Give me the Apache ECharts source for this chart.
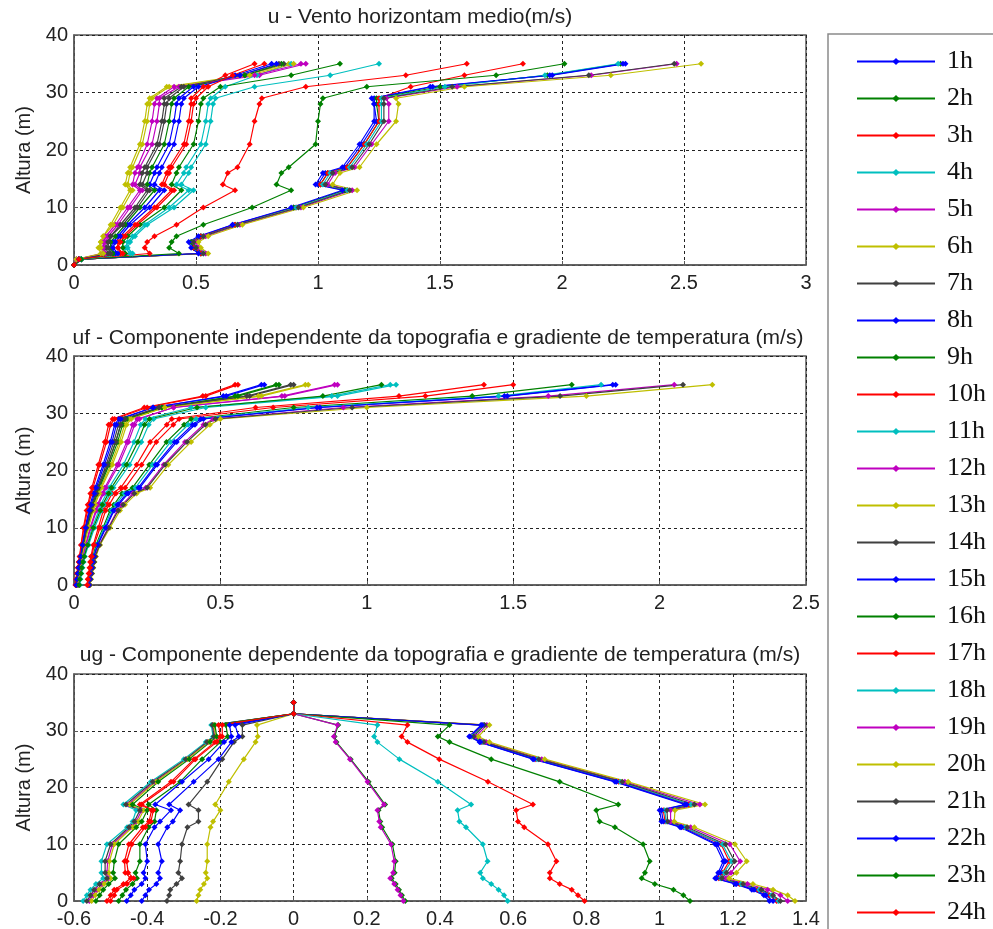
<!DOCTYPE html>
<html>
<head>
<meta charset="utf-8">
<script src="https://cdn.jsdelivr.net/npm/echarts/dist/echarts.min.js"></script>
<style>
  html, body { margin: 0; padding: 0; background: #ffffff; }
  #chart { width: 993px; height: 929px; }
</style>
</head>
<body>
<div id="chart"></div>
<script>
// Measurement heights (m) shared by every profile
const heights = [0, 1, 2, 3, 4, 5, 7, 10, 13, 14, 16, 17, 21, 25, 28, 29, 31, 33, 35];

const hourLabels = ['1h','2h','3h','4h','5h','6h','7h','8h','9h','10h','11h','12h',
                    '13h','14h','15h','16h','17h','18h','19h','20h','21h','22h','23h','24h'];

const panelTitles = [
  'u - Vento horizontam medio(m/s)',
  'uf - Componente independente da topografia e gradiente de temperatura (m/s)',
  'ug - Componente dependente da topografia e gradiente de temperatura (m/s)'
];

const xTicks = [
  { min: 0, max: 3, step: 0.5 },
  { min: 0, max: 2.5, step: 0.5 },
  { min: -0.6, max: 1.4, step: 0.2 }
];

const yTicks = { min: 0, max: 40, step: 10 };

// u: mean horizontal wind, one row per hour (values at each height)
const uProfiles = [
  [0, 0.03, 0.52, 0.49, 0.48, 0.52, 0.65, 0.90, 1.11, 1.00, 1.03, 1.11, 1.18, 1.24, 1.23, 1.23, 1.47, 1.96, 2.26],
  [0, 0.03, 0.52, 0.49, 0.48, 0.52, 0.66, 0.90, 1.11, 1.01, 1.04, 1.12, 1.19, 1.25, 1.24, 1.24, 1.50, 1.94, 2.24],
  [0, 0.03, 0.52, 0.49, 0.49, 0.52, 0.66, 0.91, 1.12, 1.01, 1.04, 1.12, 1.19, 1.25, 1.25, 1.25, 1.38, 1.60, 1.84],
  [0, 0.03, 0.53, 0.50, 0.49, 0.53, 0.67, 0.91, 1.12, 1.02, 1.05, 1.13, 1.20, 1.26, 1.26, 1.26, 1.52, 1.93, 2.23],
  [0, 0.03, 0.54, 0.51, 0.50, 0.54, 0.68, 0.93, 1.14, 1.04, 1.07, 1.15, 1.22, 1.29, 1.29, 1.28, 1.57, 2.12, 2.47],
  [0, 0.03, 0.55, 0.52, 0.51, 0.55, 0.69, 0.94, 1.16, 1.06, 1.09, 1.17, 1.24, 1.32, 1.33, 1.32, 1.60, 2.20, 2.57],
  [0, 0.03, 0.53, 0.50, 0.49, 0.53, 0.67, 0.92, 1.13, 1.03, 1.06, 1.14, 1.21, 1.27, 1.27, 1.27, 1.55, 2.11, 2.46],
  [0, 0.03, 0.51, 0.48, 0.47, 0.51, 0.65, 0.89, 1.10, 0.99, 1.02, 1.10, 1.17, 1.23, 1.23, 1.22, 1.46, 1.95, 2.25],
  [0, 0.03, 0.43, 0.39, 0.40, 0.42, 0.53, 0.73, 0.89, 0.83, 0.85, 0.88, 0.99, 1.00, 1.01, 1.02, 1.20, 1.73, 2.01],
  [0, 0.02, 0.31, 0.29, 0.30, 0.33, 0.42, 0.53, 0.66, 0.61, 0.63, 0.67, 0.72, 0.74, 0.76, 0.77, 0.95, 1.36, 1.61],
  [0, 0.03, 0.24, 0.22, 0.23, 0.25, 0.30, 0.41, 0.49, 0.44, 0.47, 0.48, 0.54, 0.56, 0.57, 0.58, 0.74, 1.05, 1.25],
  [0, 0.01, 0.13, 0.12, 0.13, 0.14, 0.18, 0.23, 0.28, 0.25, 0.27, 0.27, 0.32, 0.34, 0.35, 0.35, 0.43, 0.76, 0.95],
  [0, 0.01, 0.11, 0.10, 0.11, 0.12, 0.15, 0.19, 0.23, 0.21, 0.22, 0.23, 0.27, 0.29, 0.30, 0.31, 0.38, 0.70, 0.88],
  [0, 0.02, 0.14, 0.13, 0.14, 0.15, 0.19, 0.25, 0.30, 0.27, 0.28, 0.29, 0.34, 0.36, 0.37, 0.37, 0.44, 0.70, 0.86],
  [0, 0.02, 0.17, 0.15, 0.16, 0.18, 0.22, 0.29, 0.35, 0.31, 0.33, 0.34, 0.39, 0.41, 0.42, 0.43, 0.49, 0.66, 0.81],
  [0, 0.02, 0.16, 0.15, 0.15, 0.17, 0.21, 0.27, 0.33, 0.30, 0.31, 0.32, 0.37, 0.39, 0.40, 0.41, 0.47, 0.70, 0.85],
  [0, 0.02, 0.19, 0.18, 0.18, 0.20, 0.25, 0.33, 0.40, 0.36, 0.38, 0.39, 0.45, 0.47, 0.48, 0.48, 0.53, 0.62, 0.74],
  [0, 0.03, 0.23, 0.21, 0.22, 0.24, 0.29, 0.39, 0.47, 0.42, 0.45, 0.46, 0.52, 0.54, 0.55, 0.56, 0.62, 0.75, 0.89],
  [0, 0.01, 0.12, 0.12, 0.12, 0.13, 0.17, 0.22, 0.27, 0.24, 0.25, 0.26, 0.30, 0.32, 0.33, 0.34, 0.41, 0.74, 0.93],
  [0, 0.01, 0.12, 0.11, 0.11, 0.12, 0.16, 0.20, 0.24, 0.22, 0.23, 0.24, 0.28, 0.30, 0.31, 0.32, 0.39, 0.72, 0.90],
  [0, 0.02, 0.15, 0.14, 0.14, 0.15, 0.20, 0.26, 0.31, 0.28, 0.30, 0.30, 0.35, 0.37, 0.38, 0.39, 0.45, 0.68, 0.84],
  [0, 0.02, 0.18, 0.16, 0.17, 0.19, 0.23, 0.31, 0.37, 0.33, 0.35, 0.36, 0.41, 0.43, 0.44, 0.45, 0.51, 0.68, 0.83],
  [0, 0.03, 0.21, 0.20, 0.20, 0.22, 0.27, 0.37, 0.44, 0.40, 0.42, 0.43, 0.49, 0.51, 0.52, 0.53, 0.60, 0.89, 1.09],
  [0, 0.02, 0.20, 0.18, 0.19, 0.21, 0.26, 0.34, 0.41, 0.37, 0.39, 0.40, 0.46, 0.48, 0.49, 0.50, 0.55, 0.65, 0.78]
];

// uf: component independent of topography and temperature gradient
const ufProfiles = [
  [0.052, 0.054, 0.058, 0.061, 0.065, 0.069, 0.081, 0.109, 0.137, 0.152, 0.185, 0.225, 0.284, 0.351, 0.413, 0.442, 0.84, 1.48, 1.85],
  [0.049, 0.051, 0.055, 0.058, 0.061, 0.065, 0.075, 0.099, 0.123, 0.136, 0.164, 0.200, 0.257, 0.316, 0.376, 0.400, 0.75, 1.36, 1.70],
  [0.045, 0.047, 0.050, 0.053, 0.055, 0.058, 0.066, 0.083, 0.100, 0.110, 0.130, 0.160, 0.214, 0.260, 0.317, 0.334, 0.62, 1.11, 1.40],
  [0.050, 0.053, 0.056, 0.060, 0.063, 0.067, 0.078, 0.103, 0.128, 0.142, 0.172, 0.210, 0.268, 0.330, 0.390, 0.417, 0.80, 1.45, 1.80],
  [0.054, 0.056, 0.060, 0.064, 0.068, 0.072, 0.086, 0.117, 0.148, 0.164, 0.201, 0.245, 0.306, 0.379, 0.442, 0.475, 0.92, 1.62, 2.05],
  [0.055, 0.058, 0.062, 0.066, 0.070, 0.075, 0.089, 0.123, 0.157, 0.174, 0.214, 0.260, 0.322, 0.400, 0.464, 0.500, 1.00, 1.75, 2.18],
  [0.054, 0.057, 0.061, 0.065, 0.069, 0.073, 0.087, 0.119, 0.151, 0.168, 0.206, 0.250, 0.311, 0.386, 0.449, 0.483, 0.95, 1.66, 2.08],
  [0.051, 0.054, 0.057, 0.061, 0.064, 0.068, 0.080, 0.107, 0.134, 0.148, 0.180, 0.220, 0.279, 0.344, 0.405, 0.433, 0.83, 1.47, 1.84],
  [0.010, 0.012, 0.015, 0.018, 0.021, 0.025, 0.032, 0.044, 0.058, 0.064, 0.076, 0.084, 0.116, 0.142, 0.160, 0.175, 0.30, 0.56, 0.70],
  [0.005, 0.007, 0.010, 0.013, 0.016, 0.019, 0.024, 0.032, 0.043, 0.047, 0.056, 0.061, 0.083, 0.105, 0.118, 0.132, 0.24, 0.44, 0.55],
  [0.020, 0.022, 0.025, 0.029, 0.033, 0.037, 0.050, 0.070, 0.095, 0.102, 0.125, 0.135, 0.190, 0.230, 0.255, 0.272, 0.45, 0.90, 1.10],
  [0.014, 0.016, 0.019, 0.023, 0.026, 0.030, 0.040, 0.055, 0.074, 0.080, 0.097, 0.105, 0.147, 0.180, 0.200, 0.216, 0.34, 0.72, 0.90],
  [0.011, 0.013, 0.016, 0.019, 0.023, 0.026, 0.034, 0.047, 0.064, 0.069, 0.084, 0.091, 0.126, 0.155, 0.173, 0.188, 0.31, 0.64, 0.80],
  [0.009, 0.011, 0.014, 0.017, 0.020, 0.024, 0.030, 0.041, 0.056, 0.061, 0.073, 0.080, 0.110, 0.136, 0.152, 0.167, 0.29, 0.60, 0.75],
  [0.007, 0.009, 0.012, 0.015, 0.019, 0.022, 0.028, 0.038, 0.051, 0.055, 0.066, 0.072, 0.099, 0.124, 0.139, 0.153, 0.27, 0.52, 0.65],
  [0.010, 0.012, 0.015, 0.019, 0.022, 0.025, 0.033, 0.045, 0.061, 0.066, 0.080, 0.087, 0.120, 0.149, 0.166, 0.181, 0.30, 0.55, 0.69],
  [0.006, 0.008, 0.011, 0.014, 0.017, 0.020, 0.025, 0.034, 0.046, 0.050, 0.060, 0.065, 0.088, 0.111, 0.125, 0.139, 0.25, 0.45, 0.56],
  [0.017, 0.019, 0.022, 0.026, 0.030, 0.033, 0.045, 0.062, 0.085, 0.091, 0.111, 0.120, 0.169, 0.205, 0.228, 0.244, 0.40, 0.88, 1.08],
  [0.015, 0.017, 0.020, 0.023, 0.027, 0.031, 0.041, 0.057, 0.077, 0.083, 0.101, 0.109, 0.153, 0.186, 0.207, 0.223, 0.34, 0.71, 0.89],
  [0.012, 0.014, 0.017, 0.020, 0.024, 0.027, 0.036, 0.049, 0.066, 0.072, 0.087, 0.094, 0.131, 0.161, 0.180, 0.195, 0.31, 0.63, 0.79],
  [0.009, 0.011, 0.014, 0.018, 0.021, 0.024, 0.032, 0.043, 0.059, 0.063, 0.077, 0.083, 0.115, 0.143, 0.159, 0.174, 0.29, 0.59, 0.74],
  [0.008, 0.010, 0.013, 0.016, 0.019, 0.023, 0.029, 0.040, 0.053, 0.058, 0.070, 0.076, 0.104, 0.130, 0.145, 0.160, 0.27, 0.51, 0.64],
  [0.018, 0.020, 0.024, 0.027, 0.031, 0.035, 0.047, 0.066, 0.090, 0.097, 0.118, 0.128, 0.179, 0.218, 0.241, 0.258, 0.42, 0.85, 1.05],
  [0.046, 0.048, 0.052, 0.055, 0.057, 0.061, 0.069, 0.089, 0.108, 0.120, 0.143, 0.175, 0.231, 0.281, 0.339, 0.359, 0.68, 1.20, 1.50]
];

// ug: component dependent on topography and temperature gradient
const ugProfiles = [
  [1.30, 1.285, 1.252, 1.206, 1.152, 1.16, 1.174, 1.152, 1.056, 1.005, 1.0, 1.069, 0.878, 0.654, 0.508, 0.48, 0.512, 0, 0],
  [0.305, 0.296, 0.288, 0.279, 0.268, 0.276, 0.279, 0.27, 0.242, 0.237, 0.232, 0.25, 0.205, 0.156, 0.117, 0.112, 0.122, 0, 0],
  [1.32, 1.30, 1.268, 1.218, 1.162, 1.172, 1.19, 1.168, 1.065, 1.015, 1.01, 1.08, 0.888, 0.662, 0.514, 0.486, 0.518, 0, 0],
  [1.325, 1.305, 1.272, 1.222, 1.166, 1.176, 1.196, 1.172, 1.068, 1.018, 1.014, 1.085, 0.892, 0.665, 0.516, 0.488, 0.52, 0, 0],
  [1.35, 1.33, 1.295, 1.24, 1.18, 1.195, 1.22, 1.192, 1.085, 1.03, 1.03, 1.11, 0.905, 0.678, 0.526, 0.498, 0.528, 0, 0],
  [1.37, 1.35, 1.31, 1.255, 1.19, 1.21, 1.238, 1.206, 1.095, 1.04, 1.042, 1.124, 0.914, 0.686, 0.535, 0.505, 0.535, 0, 0],
  [1.33, 1.31, 1.278, 1.228, 1.17, 1.183, 1.205, 1.18, 1.075, 1.022, 1.02, 1.095, 0.898, 0.67, 0.52, 0.492, 0.522, 0, 0],
  [1.31, 1.29, 1.258, 1.21, 1.155, 1.165, 1.18, 1.158, 1.06, 1.01, 1.005, 1.074, 0.882, 0.657, 0.51, 0.482, 0.515, 0, 0],
  [1.083, 1.065, 1.038, 0.987, 0.951, 0.96, 0.973, 0.955, 0.878, 0.836, 0.827, 0.887, 0.727, 0.54, 0.426, 0.394, 0.426, 0, 0],
  [0.795, 0.777, 0.76, 0.727, 0.70, 0.70, 0.718, 0.695, 0.63, 0.613, 0.608, 0.654, 0.531, 0.398, 0.311, 0.295, 0.311, 0, 0],
  [0.585, 0.575, 0.56, 0.54, 0.517, 0.51, 0.53, 0.517, 0.471, 0.453, 0.448, 0.485, 0.394, 0.289, 0.229, 0.22, 0.229, 0, 0],
  [0.30, 0.292, 0.284, 0.275, 0.264, 0.272, 0.275, 0.266, 0.238, 0.234, 0.229, 0.247, 0.202, 0.154, 0.115, 0.11, 0.12, 0, 0],
  [-0.265, -0.26, -0.255, -0.245, -0.236, -0.24, -0.236, -0.236, -0.227, -0.22, -0.20, -0.214, -0.177, -0.136, -0.104, -0.098, -0.10, 0, 0],
  [-0.346, -0.34, -0.337, -0.32, -0.305, -0.315, -0.31, -0.305, -0.29, -0.26, -0.26, -0.287, -0.236, -0.195, -0.163, -0.14, -0.14, 0, 0],
  [-0.415, -0.405, -0.395, -0.375, -0.365, -0.37, -0.36, -0.37, -0.345, -0.33, -0.31, -0.34, -0.273, -0.205, -0.17, -0.15, -0.16, 0, 0],
  [-0.478, -0.468, -0.458, -0.44, -0.428, -0.432, -0.42, -0.42, -0.396, -0.38, -0.375, -0.396, -0.31, -0.25, -0.2, -0.18, -0.185, 0, 0],
  [-0.50, -0.49, -0.483, -0.455, -0.437, -0.452, -0.456, -0.442, -0.405, -0.39, -0.383, -0.415, -0.328, -0.268, -0.21, -0.195, -0.195, 0, 0],
  [-0.575, -0.565, -0.555, -0.54, -0.52, -0.525, -0.525, -0.51, -0.455, -0.44, -0.43, -0.465, -0.39, -0.30, -0.24, -0.22, -0.225, 0, 0],
  [-0.558, -0.548, -0.538, -0.523, -0.505, -0.51, -0.508, -0.495, -0.445, -0.43, -0.415, -0.452, -0.38, -0.292, -0.234, -0.215, -0.22, 0, 0],
  [-0.552, -0.542, -0.532, -0.518, -0.50, -0.505, -0.503, -0.49, -0.44, -0.425, -0.41, -0.448, -0.376, -0.29, -0.232, -0.213, -0.218, 0, 0],
  [-0.565, -0.555, -0.545, -0.53, -0.51, -0.515, -0.515, -0.50, -0.45, -0.435, -0.42, -0.458, -0.385, -0.295, -0.237, -0.218, -0.222, 0, 0],
  [-0.456, -0.445, -0.435, -0.415, -0.405, -0.41, -0.40, -0.405, -0.38, -0.365, -0.335, -0.378, -0.305, -0.232, -0.19, -0.17, -0.175, 0, 0],
  [-0.54, -0.53, -0.52, -0.505, -0.488, -0.493, -0.49, -0.478, -0.43, -0.415, -0.40, -0.44, -0.37, -0.285, -0.228, -0.21, -0.215, 0, 0],
  [-0.51, -0.50, -0.49, -0.465, -0.445, -0.46, -0.462, -0.45, -0.412, -0.395, -0.388, -0.42, -0.335, -0.272, -0.215, -0.2, -0.205, 0, 0]
];

// Classic MATLAB line colour order: b g r c m y k
const lineColors = ['#0000ff', '#008000', '#ff0000', '#00bfbf', '#bf00bf', '#bfbf00', '#404040'];

const sansFont = '"Liberation Sans", Arial, sans-serif';
const serifFont = '"Liberation Serif", "Times New Roman", serif';

const gridBoxes = [
  { left: 74, top: 35, width: 732, height: 230 },
  { left: 74, top: 356, width: 732, height: 229 },
  { left: 74, top: 674, width: 732, height: 229 }
];
const titleAnchors = [[420, 17], [438, 338], [440, 655]];

const chart = echarts.init(document.getElementById('chart'), null, { renderer: 'canvas' });

const allProfiles = [uProfiles, ufProfiles, ugProfiles];

const grids = gridBoxes.map(b => Object.assign({
  show: true, borderColor: '#5a5a5a', borderWidth: 1.5, backgroundColor: '#ffffff'
}, b));

const xAxes = xTicks.map((t, p) => ({
  type: 'value', gridIndex: p, min: t.min, max: t.max, interval: t.step,
  axisLine: { show: true, onZero: false, lineStyle: { color: '#5a5a5a', width: 1.5 } },
  axisTick: { show: true, inside: true, length: 4, lineStyle: { color: '#5a5a5a' } },
  axisLabel: { color: '#222', fontSize: 20, fontFamily: sansFont, margin: 8 },
  splitLine: { show: true, lineStyle: { color: '#222', width: 1, type: [3, 3] } }
}));

const yAxes = gridBoxes.map((b, p) => ({
  type: 'value', gridIndex: p, min: yTicks.min, max: yTicks.max, interval: yTicks.step,
  name: 'Altura (m)', nameLocation: 'middle', nameGap: 40,
  nameTextStyle: { color: '#222', fontSize: 20, fontFamily: sansFont },
  axisLine: { show: true, onZero: false, lineStyle: { color: '#5a5a5a', width: 1.5 } },
  axisTick: { show: true, inside: true, length: 4, lineStyle: { color: '#5a5a5a' } },
  axisLabel: { color: '#222', fontSize: 20, fontFamily: sansFont, margin: 6 },
  splitLine: { show: true, lineStyle: { color: '#222', width: 1, type: [3, 3] } }
}));

const series = [];
allProfiles.forEach((profiles, p) => {
  profiles.forEach((vals, k) => {
    const c = lineColors[k % lineColors.length];
    series.push({
      name: hourLabels[k],
      type: 'line',
      xAxisIndex: p,
      yAxisIndex: p,
      data: vals.map((v, i) => [v, heights[i]]),
      symbol: 'diamond',
      symbolSize: 6,
      showSymbol: true,
      lineStyle: { color: c, width: 1.2 },
      itemStyle: { color: c },
      emphasis: { disabled: true },
      silent: true,
      animation: false
    });
  });
});

const graphics = [
  {
    type: 'rect', z: 0, silent: true,
    shape: { x: 828, y: 34, width: 220, height: 960 },
    style: { fill: 'transparent', stroke: '#8a8a8a', lineWidth: 1.5 }
  }
];
panelTitles.forEach((t, p) => {
  graphics.push({
    type: 'text', silent: true,
    x: titleAnchors[p][0], y: titleAnchors[p][1],
    style: {
      text: t, fill: '#222', font: '21px ' + sansFont,
      align: 'center', verticalAlign: 'middle',
      textAlign: 'center', textVerticalAlign: 'middle'
    }
  });
});

chart.setOption({
  animation: false,
  backgroundColor: '#ffffff',
  grid: grids,
  xAxis: xAxes,
  yAxis: yAxes,
  legend: {
    orient: 'vertical',
    left: 856,
    top: 48,
    padding: 0,
    itemWidth: 78,
    itemHeight: 9,
    itemGap: 10,
    selectedMode: false,
    data: hourLabels,
    lineStyle: { width: 2 },
    textStyle: { color: '#111', fontSize: 26, fontFamily: serifFont, lineHeight: 27, padding: [0, 0, 0, 7] }
  },
  graphic: graphics,
  series: series
});
</script>
</body>
</html>
